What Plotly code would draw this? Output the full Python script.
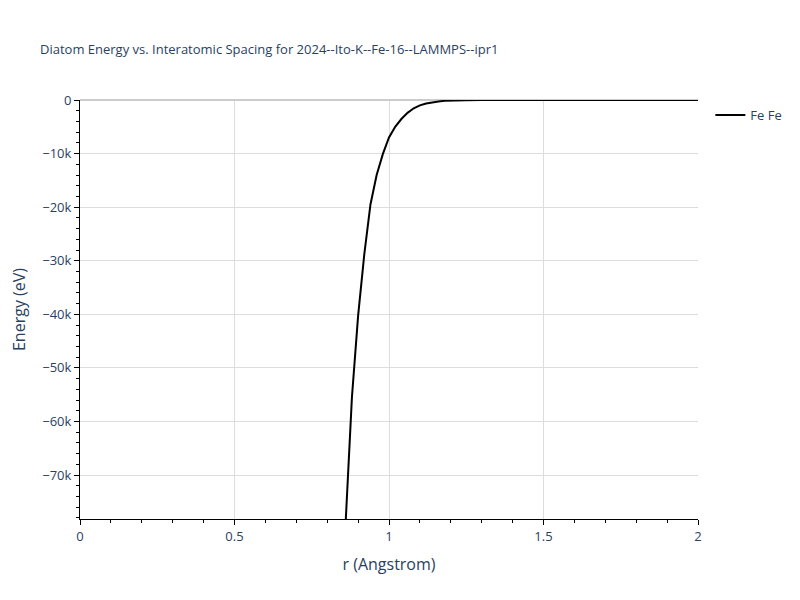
import plotly.graph_objects as go

# Diatom energy curve (r in Angstrom, energy in eV)
r_values = [0.84, 0.86, 0.88, 0.90, 0.92, 0.94, 0.96, 0.98, 1.00, 1.02, 1.04,
            1.06, 1.08, 1.10, 1.12, 1.14, 1.16, 1.18, 1.20, 1.25, 1.30, 1.40,
            1.50, 1.60, 1.70, 1.80, 1.90, 2.00]
energy_values = [-115000, -78500, -55500, -40300, -28800, -19500, -14000, -10100,
                 -7000, -5000, -3550, -2400, -1550, -1000, -650, -430, -260, -160,
                 -95, -30, -10, -2, -0.5, 0, 0, 0, 0, 0]

fig = go.Figure()
fig.add_trace(go.Scatter(
    x=r_values,
    y=energy_values,
    mode="lines",
    name="Fe Fe",
    line=dict(color="black", width=2),
))

axis_style = dict(
    showline=True, linecolor="black", linewidth=1,
    ticks="outside", ticklen=5, tickcolor="black",
    gridcolor="#dddddd",
    tickfont=dict(size=13),
    automargin=False,
)

# page body adds an 8px offset, margins are shifted to compensate
fig.update_layout(
    template="plotly_white",
    width=800, height=600,
    title=dict(text="Diatom Energy vs. Interatomic Spacing for 2024--Ito-K--Fe-16--LAMMPS--ipr1",
               font=dict(size=13), x=0.04, y=0.938),
    margin=dict(l=72, r=110, t=92, b=89),
    showlegend=True,
    legend=dict(x=1.02, y=1, font=dict(size=13)),
    xaxis=dict(title=dict(text="r (Angstrom)", font=dict(size=16)), range=[0, 2],
               dtick=0.5, zeroline=False,
               minor=dict(ticks="outside", ticklen=3, dtick=0.1, tickcolor="black", showgrid=False),
               **axis_style),
    yaxis=dict(title=dict(text="Energy (eV)", font=dict(size=16)), range=[-78200, 0],
               dtick=10000, zeroline=True, zerolinecolor="#cccccc", zerolinewidth=2,
               minor=dict(ticks="outside", ticklen=3, dtick=2000, tickcolor="black", showgrid=False),
               **axis_style),
)

fig.write_html("out.html")
